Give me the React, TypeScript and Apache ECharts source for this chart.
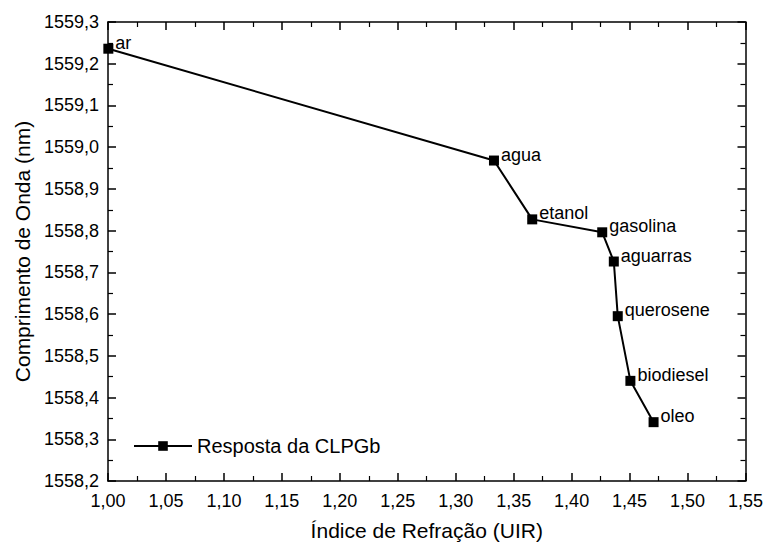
import React, { useEffect, useRef } from "react";
import * as echarts from "echarts";

const names = ["ar", "agua", "etanol", "gasolina", "aguarras", "querosene", "biodiesel", "oleo"];
const xValues = [1.0003, 1.333, 1.366, 1.4264, 1.4364, 1.4398, 1.4507, 1.4707];
const yValues = [1559.236, 1558.968, 1558.827, 1558.796, 1558.726, 1558.595, 1558.44, 1558.341];
const seriesName = "Resposta da CLPGb";

const FONT = "Arial, 'Liberation Sans', sans-serif";

export default function App() {
  const ref = useRef<HTMLDivElement>(null);
  useEffect(() => {
    if (!ref.current) return;
    const chart = echarts.init(ref.current, undefined, { renderer: "svg" });
    const data = xValues.map((x, i) => [x, yValues[i], names[i]]);
    const axisCommon = {
      axisLine: { show: true, onZero: false, lineStyle: { color: "#000", width: 1.5 } },
      axisTick: { show: true, inside: true, length: 8, lineStyle: { color: "#000", width: 1.5 } },
      minorTick: { show: true, splitNumber: 2, length: 5, lineStyle: { color: "#000", width: 1.2 } },
      splitLine: { show: false },
    };
    chart.setOption({
      animation: false,
      backgroundColor: "#fff",
      textStyle: { fontFamily: FONT },
      grid: { left: 108, top: 22, right: 17, bottom: 63, containLabel: false },
      legend: {
        left: 128,
        top: 431,
        itemWidth: 58,
        itemHeight: 12,
        itemGap: 4,
        data: [seriesName],
        textStyle: { fontFamily: FONT, fontSize: 20, color: "#000" },
      },
      xAxis: [
        {
          type: "value",
          min: 1.0,
          max: 1.55,
          interval: 0.05,
          position: "bottom",
          ...axisCommon,
          axisLabel: {
            color: "#000",
            fontSize: 18,
            fontFamily: FONT,
            margin: 11,
            formatter: (v: number) => v.toFixed(2).replace(".", ","),
          },
          name: "Índice de Refração (UIR)",
          nameLocation: "middle",
          nameGap: 39,
          nameTextStyle: { color: "#000", fontSize: 21, fontFamily: FONT },
        },
        {
          type: "value",
          min: 1.0,
          max: 1.55,
          interval: 0.05,
          position: "top",
          ...axisCommon,
          axisLabel: { show: false },
        },
      ],
      yAxis: [
        {
          type: "value",
          min: 1558.2,
          max: 1559.3,
          interval: 0.1,
          position: "left",
          ...axisCommon,
          axisLabel: {
            color: "#000",
            fontSize: 18,
            fontFamily: FONT,
            margin: 9,
            formatter: (v: number) => v.toFixed(1).replace(".", ","),
          },
          name: "Comprimento de Onda (nm)",
          nameLocation: "middle",
          nameGap: 75,
          nameTextStyle: { color: "#000", fontSize: 21, fontFamily: FONT },
        },
        {
          type: "value",
          min: 1558.2,
          max: 1559.3,
          interval: 0.1,
          position: "right",
          ...axisCommon,
          axisLabel: { show: false },
        },
      ],
      series: [
        {
          name: seriesName,
          type: "line",
          xAxisIndex: 0,
          yAxisIndex: 0,
          data,
          symbol: "rect",
          symbolSize: 10,
          itemStyle: { color: "#000" },
          lineStyle: { color: "#000", width: 2 },
          label: {
            show: true,
            position: "right",
            distance: 2,
            offset: [0, -6],
            color: "#000",
            fontSize: 18,
            fontFamily: FONT,
            formatter: (p: any) => p.data[2],
          },
        },
      ],
    });
    return () => chart.dispose();
  }, []);
  return <div ref={ref} style={{ width: 766, height: 546, position: "absolute", left: 0, top: 0 }} />;
}
